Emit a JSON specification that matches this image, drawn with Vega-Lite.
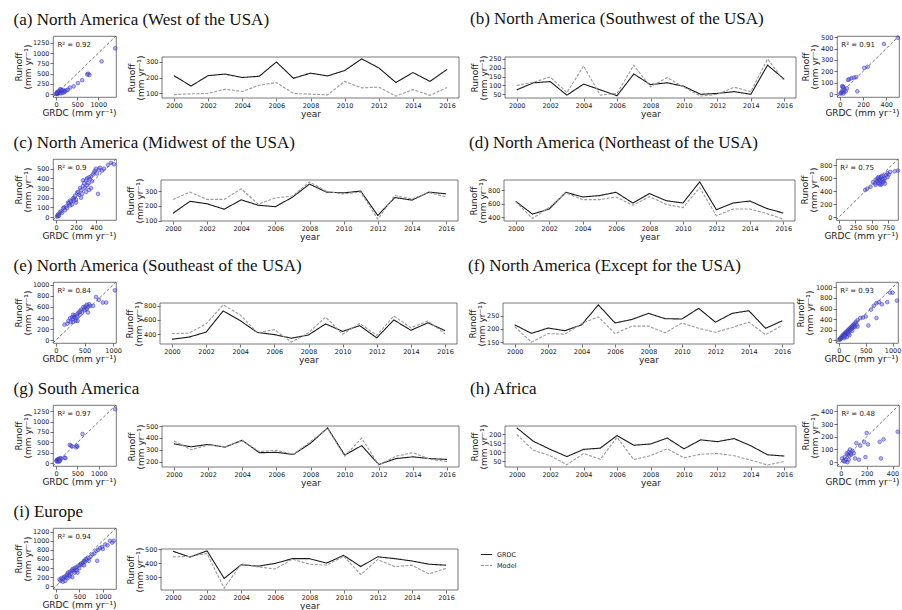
{
 "$schema": "https://vega.github.io/schema/vega-lite/v6.json",
 "background": "white",
 "padding": {"left": 13, "top": 9, "right": 0, "bottom": 0},
 "spacing": 15,
 "resolve": {"scale": {"color": "independent", "strokeDash": "independent"}},
 "config": {
  "view": {"stroke": "#555", "strokeWidth": 0.8},
  "title": {"font": "Liberation Serif", "fontSize": 17, "fontWeight": "normal", "anchor": "start", "offset": 6, "color": "#111"},
  "axis": {"grid": false, "domain": false, "labelFont": "DejaVu Sans", "labelFontSize": 6.5, "labelColor": "#222", "labelPadding": 1, "tickSize": 3, "tickColor": "#333", "tickWidth": 0.7, "titleFont": "DejaVu Sans", "titleFontSize": 9, "titleFontWeight": "normal", "titleColor": "#222", "titlePadding": 1, "titleLineHeight": 9, "labelOverlap": false, "labelFlush": false},
  "legend": {"labelFont": "DejaVu Sans", "labelFontSize": 6.5, "labelColor": "#222"}
 },
 "datasets": {
  "sa": [{"grdc":1400,"model":1120},{"grdc":1080,"model":800},{"grdc":760,"model":500},{"grdc":790,"model":470},{"grdc":740,"model":480},{"grdc":620,"model":340},{"grdc":520,"model":270},{"grdc":420,"model":190},{"grdc":330,"model":160},{"grdc":280,"model":110},{"grdc":250,"model":90},{"grdc":210,"model":70},{"grdc":180,"model":100},{"grdc":150,"model":60},{"grdc":120,"model":110},{"grdc":100,"model":120},{"grdc":90,"model":40},{"grdc":70,"model":50},{"grdc":60,"model":30},{"grdc":50,"model":20},{"grdc":40,"model":30},{"grdc":30,"model":10},{"grdc":20,"model":15},{"grdc":10,"model":5},{"grdc":25,"model":40},{"grdc":80,"model":70},{"grdc":140,"model":90},{"grdc":200,"model":50},{"grdc":160,"model":30},{"grdc":110,"model":20},{"grdc":45,"model":60},{"grdc":15,"model":25}],
  "sb": [{"grdc":500,"model":495},{"grdc":380,"model":440},{"grdc":240,"model":240},{"grdc":210,"model":230},{"grdc":140,"model":150},{"grdc":120,"model":145},{"grdc":100,"model":140},{"grdc":80,"model":130},{"grdc":70,"model":125},{"grdc":150,"model":25},{"grdc":20,"model":70},{"grdc":30,"model":65},{"grdc":25,"model":60},{"grdc":35,"model":20},{"grdc":15,"model":15},{"grdc":10,"model":10},{"grdc":5,"model":5},{"grdc":20,"model":30},{"grdc":40,"model":40},{"grdc":60,"model":50},{"grdc":30,"model":5},{"grdc":50,"model":25}],
  "sc": [{"grdc":10,"model":5},{"grdc":15,"model":20},{"grdc":20,"model":10},{"grdc":25,"model":30},{"grdc":30,"model":15},{"grdc":40,"model":50},{"grdc":50,"model":60},{"grdc":60,"model":45},{"grdc":70,"model":90},{"grdc":80,"model":100},{"grdc":90,"model":70},{"grdc":100,"model":110},{"grdc":110,"model":95},{"grdc":120,"model":150},{"grdc":130,"model":140},{"grdc":140,"model":170},{"grdc":150,"model":160},{"grdc":160,"model":130},{"grdc":170,"model":190},{"grdc":180,"model":200},{"grdc":190,"model":220},{"grdc":200,"model":180},{"grdc":210,"model":250},{"grdc":220,"model":260},{"grdc":230,"model":230},{"grdc":240,"model":300},{"grdc":250,"model":280},{"grdc":260,"model":240},{"grdc":270,"model":320},{"grdc":280,"model":350},{"grdc":290,"model":300},{"grdc":300,"model":380},{"grdc":310,"model":400},{"grdc":320,"model":350},{"grdc":330,"model":410},{"grdc":340,"model":390},{"grdc":350,"model":420},{"grdc":360,"model":370},{"grdc":370,"model":440},{"grdc":380,"model":460},{"grdc":390,"model":480},{"grdc":400,"model":500},{"grdc":410,"model":450},{"grdc":420,"model":240},{"grdc":430,"model":490},{"grdc":440,"model":510},{"grdc":460,"model":480},{"grdc":480,"model":500},{"grdc":520,"model":540},{"grdc":550,"model":560},{"grdc":580,"model":545},{"grdc":300,"model":260},{"grdc":250,"model":200},{"grdc":200,"model":150},{"grdc":350,"model":300},{"grdc":270,"model":380},{"grdc":310,"model":330},{"grdc":180,"model":170},{"grdc":140,"model":120},{"grdc":330,"model":280}],
  "sd": [{"grdc":400,"model":420},{"grdc":430,"model":440},{"grdc":480,"model":470},{"grdc":520,"model":540},{"grdc":550,"model":520},{"grdc":560,"model":500},{"grdc":580,"model":560},{"grdc":600,"model":530},{"grdc":610,"model":580},{"grdc":620,"model":600},{"grdc":630,"model":550},{"grdc":640,"model":620},{"grdc":650,"model":510},{"grdc":660,"model":570},{"grdc":670,"model":590},{"grdc":680,"model":640},{"grdc":690,"model":560},{"grdc":700,"model":600},{"grdc":720,"model":650},{"grdc":740,"model":680},{"grdc":760,"model":660},{"grdc":780,"model":700},{"grdc":850,"model":710},{"grdc":900,"model":720},{"grdc":600,"model":620},{"grdc":630,"model":500},{"grdc":650,"model":640},{"grdc":670,"model":540},{"grdc":590,"model":600},{"grdc":620,"model":520},{"grdc":560,"model":580},{"grdc":700,"model":520},{"grdc":740,"model":620}],
  "se": [{"grdc":150,"model":280},{"grdc":200,"model":300},{"grdc":220,"model":350},{"grdc":250,"model":400},{"grdc":260,"model":330},{"grdc":280,"model":410},{"grdc":300,"model":380},{"grdc":320,"model":420},{"grdc":330,"model":450},{"grdc":350,"model":400},{"grdc":370,"model":430},{"grdc":380,"model":480},{"grdc":400,"model":500},{"grdc":420,"model":460},{"grdc":440,"model":550},{"grdc":460,"model":520},{"grdc":480,"model":600},{"grdc":500,"model":580},{"grdc":520,"model":610},{"grdc":540,"model":560},{"grdc":560,"model":600},{"grdc":580,"model":650},{"grdc":600,"model":620},{"grdc":650,"model":620},{"grdc":700,"model":780},{"grdc":750,"model":730},{"grdc":820,"model":680},{"grdc":880,"model":680},{"grdc":1030,"model":900},{"grdc":300,"model":330},{"grdc":350,"model":350},{"grdc":420,"model":520},{"grdc":500,"model":540},{"grdc":540,"model":640},{"grdc":560,"model":500},{"grdc":380,"model":350},{"grdc":300,"model":460}],
  "sf": [{"grdc":550,"model":280},{"grdc":700,"model":420},{"grdc":600,"model":580},{"grdc":750,"model":720},{"grdc":800,"model":680},{"grdc":950,"model":900},{"grdc":1000,"model":900},{"grdc":1080,"model":750},{"grdc":900,"model":720},{"grdc":650,"model":650},{"grdc":700,"model":700},{"grdc":500,"model":450},{"grdc":10,"model":10},{"grdc":20,"model":30},{"grdc":30,"model":20},{"grdc":40,"model":50},{"grdc":50,"model":40},{"grdc":60,"model":80},{"grdc":70,"model":60},{"grdc":80,"model":100},{"grdc":90,"model":70},{"grdc":100,"model":120},{"grdc":110,"model":90},{"grdc":120,"model":140},{"grdc":130,"model":110},{"grdc":140,"model":160},{"grdc":150,"model":130},{"grdc":160,"model":180},{"grdc":170,"model":150},{"grdc":180,"model":200},{"grdc":190,"model":170},{"grdc":200,"model":220},{"grdc":210,"model":190},{"grdc":220,"model":240},{"grdc":230,"model":210},{"grdc":240,"model":260},{"grdc":250,"model":230},{"grdc":260,"model":280},{"grdc":270,"model":250},{"grdc":280,"model":300},{"grdc":290,"model":270},{"grdc":300,"model":320},{"grdc":320,"model":350},{"grdc":350,"model":380},{"grdc":200,"model":100},{"grdc":250,"model":180},{"grdc":150,"model":60},{"grdc":100,"model":40},{"grdc":300,"model":250},{"grdc":350,"model":260},{"grdc":400,"model":420},{"grdc":450,"model":430},{"grdc":330,"model":300},{"grdc":180,"model":120},{"grdc":120,"model":80}],
  "sg": [{"grdc":10,"model":50},{"grdc":20,"model":80},{"grdc":30,"model":60},{"grdc":40,"model":30},{"grdc":50,"model":90},{"grdc":60,"model":100},{"grdc":70,"model":70},{"grdc":80,"model":40},{"grdc":100,"model":120},{"grdc":120,"model":110},{"grdc":200,"model":130},{"grdc":220,"model":120},{"grdc":320,"model":440},{"grdc":350,"model":420},{"grdc":380,"model":400},{"grdc":470,"model":380},{"grdc":480,"model":420},{"grdc":500,"model":400},{"grdc":620,"model":700},{"grdc":1380,"model":1300},{"grdc":90,"model":60}],
  "sh": [{"grdc":10,"model":30},{"grdc":20,"model":10},{"grdc":30,"model":40},{"grdc":40,"model":20},{"grdc":50,"model":0},{"grdc":55,"model":60},{"grdc":60,"model":80},{"grdc":65,"model":50},{"grdc":70,"model":100},{"grdc":75,"model":70},{"grdc":80,"model":60},{"grdc":90,"model":90},{"grdc":100,"model":70},{"grdc":110,"model":30},{"grdc":120,"model":150},{"grdc":140,"model":20},{"grdc":150,"model":130},{"grdc":180,"model":160},{"grdc":190,"model":40},{"grdc":200,"model":230},{"grdc":210,"model":140},{"grdc":300,"model":160},{"grdc":310,"model":30},{"grdc":330,"model":180},{"grdc":440,"model":240},{"grdc":60,"model":20},{"grdc":30,"model":5},{"grdc":45,"model":70}],
  "si": [{"grdc":80,"model":150},{"grdc":100,"model":120},{"grdc":120,"model":180},{"grdc":150,"model":160},{"grdc":170,"model":200},{"grdc":200,"model":220},{"grdc":220,"model":190},{"grdc":240,"model":260},{"grdc":260,"model":300},{"grdc":280,"model":250},{"grdc":300,"model":320},{"grdc":320,"model":280},{"grdc":340,"model":350},{"grdc":360,"model":380},{"grdc":380,"model":340},{"grdc":400,"model":400},{"grdc":420,"model":360},{"grdc":440,"model":420},{"grdc":460,"model":300},{"grdc":480,"model":450},{"grdc":500,"model":400},{"grdc":520,"model":480},{"grdc":540,"model":500},{"grdc":560,"model":470},{"grdc":580,"model":520},{"grdc":600,"model":560},{"grdc":620,"model":540},{"grdc":640,"model":600},{"grdc":660,"model":580},{"grdc":700,"model":620},{"grdc":740,"model":650},{"grdc":780,"model":700},{"grdc":820,"model":720},{"grdc":860,"model":780},{"grdc":880,"model":560},{"grdc":900,"model":800},{"grdc":940,"model":840},{"grdc":980,"model":860},{"grdc":1000,"model":820},{"grdc":1050,"model":920},{"grdc":1100,"model":900},{"grdc":1150,"model":1000},{"grdc":1200,"model":960},{"grdc":1230,"model":1000},{"grdc":350,"model":200},{"grdc":300,"model":220},{"grdc":250,"model":180},{"grdc":400,"model":300},{"grdc":450,"model":350},{"grdc":150,"model":100},{"grdc":600,"model":460},{"grdc":700,"model":560},{"grdc":200,"model":120}],
  "la": [{"year":2000,"GRDC":212,"Model":90},{"year":2001,"GRDC":145,"Model":95},{"year":2002,"GRDC":212,"Model":97},{"year":2003,"GRDC":222,"Model":125},{"year":2004,"GRDC":200,"Model":110},{"year":2005,"GRDC":208,"Model":150},{"year":2006,"GRDC":300,"Model":168},{"year":2007,"GRDC":195,"Model":97},{"year":2008,"GRDC":228,"Model":93},{"year":2009,"GRDC":210,"Model":88},{"year":2010,"GRDC":245,"Model":175},{"year":2011,"GRDC":320,"Model":133},{"year":2012,"GRDC":262,"Model":138},{"year":2013,"GRDC":168,"Model":80},{"year":2014,"GRDC":232,"Model":122},{"year":2015,"GRDC":175,"Model":85},{"year":2016,"GRDC":252,"Model":135}],
  "lb": [{"year":2000,"GRDC":75,"Model":100},{"year":2001,"GRDC":115,"Model":118},{"year":2002,"GRDC":122,"Model":148},{"year":2003,"GRDC":45,"Model":60},{"year":2004,"GRDC":108,"Model":210},{"year":2005,"GRDC":75,"Model":45},{"year":2006,"GRDC":42,"Model":55},{"year":2007,"GRDC":165,"Model":215},{"year":2008,"GRDC":105,"Model":92},{"year":2009,"GRDC":115,"Model":145},{"year":2010,"GRDC":95,"Model":90},{"year":2011,"GRDC":50,"Model":40},{"year":2012,"GRDC":55,"Model":50},{"year":2013,"GRDC":65,"Model":90},{"year":2014,"GRDC":50,"Model":65},{"year":2015,"GRDC":215,"Model":250},{"year":2016,"GRDC":135,"Model":125}],
  "lc": [{"year":2000,"GRDC":150,"Model":245},{"year":2001,"GRDC":232,"Model":295},{"year":2002,"GRDC":215,"Model":245},{"year":2003,"GRDC":178,"Model":245},{"year":2004,"GRDC":242,"Model":318},{"year":2005,"GRDC":205,"Model":212},{"year":2006,"GRDC":195,"Model":255},{"year":2007,"GRDC":260,"Model":268},{"year":2008,"GRDC":350,"Model":365},{"year":2009,"GRDC":295,"Model":300},{"year":2010,"GRDC":290,"Model":282},{"year":2011,"GRDC":302,"Model":295},{"year":2012,"GRDC":135,"Model":110},{"year":2013,"GRDC":258,"Model":272},{"year":2014,"GRDC":240,"Model":248},{"year":2015,"GRDC":295,"Model":292},{"year":2016,"GRDC":283,"Model":262}],
  "ld": [{"year":2000,"GRDC":635,"Model":630},{"year":2001,"GRDC":445,"Model":380},{"year":2002,"GRDC":520,"Model":545},{"year":2003,"GRDC":770,"Model":760},{"year":2004,"GRDC":700,"Model":660},{"year":2005,"GRDC":720,"Model":660},{"year":2006,"GRDC":770,"Model":700},{"year":2007,"GRDC":610,"Model":575},{"year":2008,"GRDC":750,"Model":705},{"year":2009,"GRDC":645,"Model":590},{"year":2010,"GRDC":610,"Model":540},{"year":2011,"GRDC":925,"Model":840},{"year":2012,"GRDC":510,"Model":420},{"year":2013,"GRDC":610,"Model":520},{"year":2014,"GRDC":640,"Model":520},{"year":2015,"GRDC":530,"Model":455},{"year":2016,"GRDC":460,"Model":370}],
  "le": [{"year":2000,"GRDC":330,"Model":410},{"year":2001,"GRDC":360,"Model":415},{"year":2002,"GRDC":430,"Model":545},{"year":2003,"GRDC":725,"Model":810},{"year":2004,"GRDC":590,"Model":670},{"year":2005,"GRDC":425,"Model":420},{"year":2006,"GRDC":395,"Model":465},{"year":2007,"GRDC":345,"Model":290},{"year":2008,"GRDC":390,"Model":420},{"year":2009,"GRDC":545,"Model":640},{"year":2010,"GRDC":440,"Model":400},{"year":2011,"GRDC":520,"Model":550},{"year":2012,"GRDC":350,"Model":385},{"year":2013,"GRDC":600,"Model":655},{"year":2014,"GRDC":455,"Model":490},{"year":2015,"GRDC":560,"Model":585},{"year":2016,"GRDC":450,"Model":405}],
  "lf": [{"year":2000,"GRDC":215,"Model":208},{"year":2001,"GRDC":183,"Model":150},{"year":2002,"GRDC":203,"Model":182},{"year":2003,"GRDC":193,"Model":180},{"year":2004,"GRDC":215,"Model":220},{"year":2005,"GRDC":290,"Model":245},{"year":2006,"GRDC":222,"Model":182},{"year":2007,"GRDC":235,"Model":210},{"year":2008,"GRDC":258,"Model":210},{"year":2009,"GRDC":238,"Model":185},{"year":2010,"GRDC":237,"Model":222},{"year":2011,"GRDC":277,"Model":202},{"year":2012,"GRDC":225,"Model":187},{"year":2013,"GRDC":258,"Model":205},{"year":2014,"GRDC":268,"Model":225},{"year":2015,"GRDC":202,"Model":178},{"year":2016,"GRDC":230,"Model":213}],
  "lg": [{"year":2000,"GRDC":350,"Model":375},{"year":2001,"GRDC":325,"Model":300},{"year":2002,"GRDC":345,"Model":340},{"year":2003,"GRDC":322,"Model":325},{"year":2004,"GRDC":380,"Model":378},{"year":2005,"GRDC":275,"Model":285},{"year":2006,"GRDC":278,"Model":295},{"year":2007,"GRDC":260,"Model":262},{"year":2008,"GRDC":355,"Model":370},{"year":2009,"GRDC":485,"Model":480},{"year":2010,"GRDC":255,"Model":245},{"year":2011,"GRDC":335,"Model":398},{"year":2012,"GRDC":175,"Model":170},{"year":2013,"GRDC":225,"Model":245},{"year":2014,"GRDC":240,"Model":275},{"year":2015,"GRDC":225,"Model":220},{"year":2016,"GRDC":218,"Model":200}],
  "lh": [{"year":2000,"GRDC":235,"Model":198},{"year":2001,"GRDC":160,"Model":110},{"year":2002,"GRDC":115,"Model":80},{"year":2003,"GRDC":75,"Model":30},{"year":2004,"GRDC":115,"Model":92},{"year":2005,"GRDC":122,"Model":60},{"year":2006,"GRDC":192,"Model":182},{"year":2007,"GRDC":138,"Model":58},{"year":2008,"GRDC":145,"Model":80},{"year":2009,"GRDC":178,"Model":118},{"year":2010,"GRDC":118,"Model":68},{"year":2011,"GRDC":168,"Model":88},{"year":2012,"GRDC":158,"Model":92},{"year":2013,"GRDC":175,"Model":80},{"year":2014,"GRDC":135,"Model":55},{"year":2015,"GRDC":85,"Model":28},{"year":2016,"GRDC":78,"Model":48}],
  "li": [{"year":2000,"GRDC":485,"Model":445},{"year":2001,"GRDC":443,"Model":448},{"year":2002,"GRDC":488,"Model":468},{"year":2003,"GRDC":290,"Model":220},{"year":2004,"GRDC":388,"Model":395},{"year":2005,"GRDC":378,"Model":372},{"year":2006,"GRDC":398,"Model":358},{"year":2007,"GRDC":432,"Model":428},{"year":2008,"GRDC":432,"Model":392},{"year":2009,"GRDC":400,"Model":385},{"year":2010,"GRDC":455,"Model":450},{"year":2011,"GRDC":375,"Model":318},{"year":2012,"GRDC":445,"Model":425},{"year":2013,"GRDC":432,"Model":375},{"year":2014,"GRDC":415,"Model":385},{"year":2015,"GRDC":392,"Model":322},{"year":2016,"GRDC":385,"Model":362}]
 },
 "vconcat": [
  {"spacing": 10, "resolve": {"scale": {"color": "independent", "strokeDash": "independent"}}, "hconcat": [
    {"title": {"text": "(a) North America (West of the USA)"}, "spacing": 8, "resolve": {"scale": {"color": "independent", "strokeDash": "independent"}}, "hconcat": [
      {"width": 63, "height": 61, "data": {"name": "sa"}, "layer": [
        {"mark": {"type": "point", "filled": true, "size": 14, "fill": "#5a5ae6", "fillOpacity": 0.45, "stroke": "#2c2cc8", "strokeWidth": 0.6, "strokeOpacity": 0.8}, "encoding": {
          "x": {"field": "grdc", "type": "quantitative", "scale": {"domain": [-70, 1420], "nice": false, "zero": false}, "axis": {"values": [0, 500, 1000], "format": "d", "labelOverlap": false, "title": "GRDC (mm yr⁻¹)", "titleAnchor": "end"}},
          "y": {"field": "model", "type": "quantitative", "scale": {"domain": [-70, 1420], "nice": false, "zero": false}, "axis": {"values": [0, 250, 500, 750, 1000, 1250], "format": "d", "labelOverlap": false, "title": ["Runoff", "(mm yr⁻¹)"], "minExtent": 20, "maxExtent": 20}}}},
        {"data": {"values": [{}]}, "mark": {"type": "rule", "strokeDash": [3, 2], "color": "#555", "strokeWidth": 0.8}, "encoding": {
          "x": {"datum": -70, "type": "quantitative", "scale": {"domain": [-70, 1420], "nice": false, "zero": false}, "axis": {"values": [0, 500, 1000], "format": "d", "labelOverlap": false, "title": "GRDC (mm yr⁻¹)", "titleAnchor": "end"}},
          "y": {"datum": -70, "type": "quantitative", "scale": {"domain": [-70, 1420], "nice": false, "zero": false}, "axis": {"values": [0, 250, 500, 750, 1000, 1250], "format": "d", "labelOverlap": false, "title": ["Runoff", "(mm yr⁻¹)"], "minExtent": 20, "maxExtent": 20}},
          "x2": {"datum": 1420}, "y2": {"datum": 1420}}},
        {"data": {"values": [{}]}, "mark": {"type": "text", "text": "R² = 0.92", "align": "left", "baseline": "middle", "fontSize": 7, "font": "DejaVu Sans", "color": "#222"}, "encoding": {
          "x": {"datum": 34, "type": "quantitative", "scale": {"domain": [-70, 1420], "nice": false, "zero": false}, "axis": {"values": [0, 500, 1000], "format": "d", "labelOverlap": false, "title": "GRDC (mm yr⁻¹)", "titleAnchor": "end"}},
          "y": {"datum": 1211, "type": "quantitative", "scale": {"domain": [-70, 1420], "nice": false, "zero": false}, "axis": {"values": [0, 250, 500, 750, 1000, 1250], "format": "d", "labelOverlap": false, "title": ["Runoff", "(mm yr⁻¹)"], "minExtent": 20, "maxExtent": 20}}}}
      ]},
      {"width": 297, "height": 62, "view": {"stroke": null}, "layer": [
        {"data": {"values": [{}]}, "mark": {"type": "rect", "fillOpacity": 0, "stroke": "#555", "strokeWidth": 0.8}, "encoding": {
          "x": {"datum": 1999.3, "type": "quantitative", "scale": {"domain": [1999.3, 2016.7], "nice": false, "zero": false}, "axis": {"values": [2000, 2002, 2004, 2006, 2008, 2010, 2012, 2014, 2016], "format": "d", "title": "year"}},
          "x2": {"datum": 2016.7},
          "y": {"datum": 68, "type": "quantitative", "scale": {"domain": [68, 332], "range": [62, 21], "nice": false, "zero": false}, "axis": {"values": [100, 200, 300], "title": ["Runoff", "(mm yr⁻¹)"], "minExtent": 16, "maxExtent": 16}},
          "y2": {"datum": 332}}},
        {"data": {"name": "la"}, "transform": [{"fold": ["GRDC", "Model"], "as": ["series", "runoff"]}], "mark": {"type": "line", "strokeWidth": 1.1}, "encoding": {
          "x": {"field": "year", "type": "quantitative", "scale": {"domain": [1999.3, 2016.7], "nice": false, "zero": false}, "axis": {"values": [2000, 2002, 2004, 2006, 2008, 2010, 2012, 2014, 2016], "format": "d", "title": "year"}},
          "y": {"field": "runoff", "type": "quantitative", "scale": {"domain": [68, 332], "range": [62, 21], "nice": false, "zero": false}, "axis": {"values": [100, 200, 300], "title": ["Runoff", "(mm yr⁻¹)"], "minExtent": 16, "maxExtent": 16}},
          "color": {"field": "series", "type": "nominal", "scale": {"domain": ["GRDC", "Model"], "range": ["#1a1a1a", "#9a9a9a"]}, "legend": null},
          "strokeDash": {"field": "series", "type": "nominal", "scale": {"domain": ["GRDC", "Model"], "range": [[1, 0], [3, 1.5]]}, "legend": null}}}
      ]}
    ]},
    {"title": {"text": "(b) North America (Southwest of the USA)"}, "spacing": 4, "resolve": {"scale": {"color": "independent", "strokeDash": "independent"}}, "hconcat": [
      {"width": 291, "height": 62, "view": {"stroke": null}, "layer": [
        {"data": {"values": [{}]}, "mark": {"type": "rect", "fillOpacity": 0, "stroke": "#555", "strokeWidth": 0.8}, "encoding": {
          "x": {"datum": 1999.3, "type": "quantitative", "scale": {"domain": [1999.3, 2016.7], "nice": false, "zero": false}, "axis": {"values": [2000, 2002, 2004, 2006, 2008, 2010, 2012, 2014, 2016], "format": "d", "title": "year"}},
          "x2": {"datum": 2016.7},
          "y": {"datum": 29, "type": "quantitative", "scale": {"domain": [29, 261], "range": [62, 21], "nice": false, "zero": false}, "axis": {"values": [50, 100, 150, 200, 250], "title": ["Runoff", "(mm yr⁻¹)"], "minExtent": 16, "maxExtent": 16}},
          "y2": {"datum": 261}}},
        {"data": {"name": "lb"}, "transform": [{"fold": ["GRDC", "Model"], "as": ["series", "runoff"]}], "mark": {"type": "line", "strokeWidth": 1.1}, "encoding": {
          "x": {"field": "year", "type": "quantitative", "scale": {"domain": [1999.3, 2016.7], "nice": false, "zero": false}, "axis": {"values": [2000, 2002, 2004, 2006, 2008, 2010, 2012, 2014, 2016], "format": "d", "title": "year"}},
          "y": {"field": "runoff", "type": "quantitative", "scale": {"domain": [29, 261], "range": [62, 21], "nice": false, "zero": false}, "axis": {"values": [50, 100, 150, 200, 250], "title": ["Runoff", "(mm yr⁻¹)"], "minExtent": 16, "maxExtent": 16}},
          "color": {"field": "series", "type": "nominal", "scale": {"domain": ["GRDC", "Model"], "range": ["#1a1a1a", "#9a9a9a"]}, "legend": null},
          "strokeDash": {"field": "series", "type": "nominal", "scale": {"domain": ["GRDC", "Model"], "range": [[1, 0], [3, 1.5]]}, "legend": null}}}
      ]},
      {"width": 62, "height": 61, "data": {"name": "sb"}, "layer": [
        {"mark": {"type": "point", "filled": true, "size": 14, "fill": "#5a5ae6", "fillOpacity": 0.45, "stroke": "#2c2cc8", "strokeWidth": 0.6, "strokeOpacity": 0.8}, "encoding": {
          "x": {"field": "grdc", "type": "quantitative", "scale": {"domain": [-25, 510], "nice": false, "zero": false}, "axis": {"values": [0, 200, 400], "format": "d", "labelOverlap": false, "title": "GRDC (mm yr⁻¹)", "titleAnchor": "end"}},
          "y": {"field": "model", "type": "quantitative", "scale": {"domain": [-25, 510], "nice": false, "zero": false}, "axis": {"values": [0, 100, 200, 300, 400, 500], "format": "d", "labelOverlap": false, "title": ["Runoff", "(mm yr⁻¹)"]}}}},
        {"data": {"values": [{}]}, "mark": {"type": "rule", "strokeDash": [3, 2], "color": "#555", "strokeWidth": 0.8}, "encoding": {
          "x": {"datum": -25, "type": "quantitative", "scale": {"domain": [-25, 510], "nice": false, "zero": false}, "axis": {"values": [0, 200, 400], "format": "d", "labelOverlap": false, "title": "GRDC (mm yr⁻¹)", "titleAnchor": "end"}},
          "y": {"datum": -25, "type": "quantitative", "scale": {"domain": [-25, 510], "nice": false, "zero": false}, "axis": {"values": [0, 100, 200, 300, 400, 500], "format": "d", "labelOverlap": false, "title": ["Runoff", "(mm yr⁻¹)"]}},
          "x2": {"datum": 510}, "y2": {"datum": 510}}},
        {"data": {"values": [{}]}, "mark": {"type": "text", "text": "R² = 0.91", "align": "left", "baseline": "middle", "fontSize": 7, "font": "DejaVu Sans", "color": "#222"}, "encoding": {
          "x": {"datum": 12, "type": "quantitative", "scale": {"domain": [-25, 510], "nice": false, "zero": false}, "axis": {"values": [0, 200, 400], "format": "d", "labelOverlap": false, "title": "GRDC (mm yr⁻¹)", "titleAnchor": "end"}},
          "y": {"datum": 435, "type": "quantitative", "scale": {"domain": [-25, 510], "nice": false, "zero": false}, "axis": {"values": [0, 100, 200, 300, 400, 500], "format": "d", "labelOverlap": false, "title": ["Runoff", "(mm yr⁻¹)"]}}}}
      ]}
    ]}
  ]},
  {"spacing": 10, "resolve": {"scale": {"color": "independent", "strokeDash": "independent"}}, "hconcat": [
    {"title": {"text": "(c) North America (Midwest of the USA)"}, "spacing": 8, "resolve": {"scale": {"color": "independent", "strokeDash": "independent"}}, "hconcat": [
      {"width": 63, "height": 61, "data": {"name": "sc"}, "layer": [
        {"mark": {"type": "point", "filled": true, "size": 14, "fill": "#5a5ae6", "fillOpacity": 0.45, "stroke": "#2c2cc8", "strokeWidth": 0.6, "strokeOpacity": 0.8}, "encoding": {
          "x": {"field": "grdc", "type": "quantitative", "scale": {"domain": [-30, 600], "nice": false, "zero": false}, "axis": {"values": [0, 200, 400], "format": "d", "labelOverlap": false, "title": "GRDC (mm yr⁻¹)", "titleAnchor": "end"}},
          "y": {"field": "model", "type": "quantitative", "scale": {"domain": [-30, 600], "nice": false, "zero": false}, "axis": {"values": [0, 100, 200, 300, 400, 500], "format": "d", "labelOverlap": false, "title": ["Runoff", "(mm yr⁻¹)"], "minExtent": 20, "maxExtent": 20}}}},
        {"data": {"values": [{}]}, "mark": {"type": "rule", "strokeDash": [3, 2], "color": "#555", "strokeWidth": 0.8}, "encoding": {
          "x": {"datum": -30, "type": "quantitative", "scale": {"domain": [-30, 600], "nice": false, "zero": false}, "axis": {"values": [0, 200, 400], "format": "d", "labelOverlap": false, "title": "GRDC (mm yr⁻¹)", "titleAnchor": "end"}},
          "y": {"datum": -30, "type": "quantitative", "scale": {"domain": [-30, 600], "nice": false, "zero": false}, "axis": {"values": [0, 100, 200, 300, 400, 500], "format": "d", "labelOverlap": false, "title": ["Runoff", "(mm yr⁻¹)"], "minExtent": 20, "maxExtent": 20}},
          "x2": {"datum": 600}, "y2": {"datum": 600}}},
        {"data": {"values": [{}]}, "mark": {"type": "text", "text": "R² = 0.9", "align": "left", "baseline": "middle", "fontSize": 7, "font": "DejaVu Sans", "color": "#222"}, "encoding": {
          "x": {"datum": 14, "type": "quantitative", "scale": {"domain": [-30, 600], "nice": false, "zero": false}, "axis": {"values": [0, 200, 400], "format": "d", "labelOverlap": false, "title": "GRDC (mm yr⁻¹)", "titleAnchor": "end"}},
          "y": {"datum": 512, "type": "quantitative", "scale": {"domain": [-30, 600], "nice": false, "zero": false}, "axis": {"values": [0, 100, 200, 300, 400, 500], "format": "d", "labelOverlap": false, "title": ["Runoff", "(mm yr⁻¹)"], "minExtent": 20, "maxExtent": 20}}}}
      ]},
      {"width": 297, "height": 62, "view": {"stroke": null}, "layer": [
        {"data": {"values": [{}]}, "mark": {"type": "rect", "fillOpacity": 0, "stroke": "#555", "strokeWidth": 0.8}, "encoding": {
          "x": {"datum": 1999.3, "type": "quantitative", "scale": {"domain": [1999.3, 2016.7], "nice": false, "zero": false}, "axis": {"values": [2000, 2002, 2004, 2006, 2008, 2010, 2012, 2014, 2016], "format": "d", "title": "year"}},
          "x2": {"datum": 2016.7},
          "y": {"datum": 97, "type": "quantitative", "scale": {"domain": [97, 378], "range": [62, 21], "nice": false, "zero": false}, "axis": {"values": [100, 200, 300], "title": ["Runoff", "(mm yr⁻¹)"], "minExtent": 16, "maxExtent": 16}},
          "y2": {"datum": 378}}},
        {"data": {"name": "lc"}, "transform": [{"fold": ["GRDC", "Model"], "as": ["series", "runoff"]}], "mark": {"type": "line", "strokeWidth": 1.1}, "encoding": {
          "x": {"field": "year", "type": "quantitative", "scale": {"domain": [1999.3, 2016.7], "nice": false, "zero": false}, "axis": {"values": [2000, 2002, 2004, 2006, 2008, 2010, 2012, 2014, 2016], "format": "d", "title": "year"}},
          "y": {"field": "runoff", "type": "quantitative", "scale": {"domain": [97, 378], "range": [62, 21], "nice": false, "zero": false}, "axis": {"values": [100, 200, 300], "title": ["Runoff", "(mm yr⁻¹)"], "minExtent": 16, "maxExtent": 16}},
          "color": {"field": "series", "type": "nominal", "scale": {"domain": ["GRDC", "Model"], "range": ["#1a1a1a", "#9a9a9a"]}, "legend": null},
          "strokeDash": {"field": "series", "type": "nominal", "scale": {"domain": ["GRDC", "Model"], "range": [[1, 0], [3, 1.5]]}, "legend": null}}}
      ]}
    ]},
    {"title": {"text": "(d) North America (Northeast of the USA)"}, "spacing": 4, "resolve": {"scale": {"color": "independent", "strokeDash": "independent"}}, "hconcat": [
      {"width": 291, "height": 62, "view": {"stroke": null}, "layer": [
        {"data": {"values": [{}]}, "mark": {"type": "rect", "fillOpacity": 0, "stroke": "#555", "strokeWidth": 0.8}, "encoding": {
          "x": {"datum": 1999.3, "type": "quantitative", "scale": {"domain": [1999.3, 2016.7], "nice": false, "zero": false}, "axis": {"values": [2000, 2002, 2004, 2006, 2008, 2010, 2012, 2014, 2016], "format": "d", "title": "year"}},
          "x2": {"datum": 2016.7},
          "y": {"datum": 342, "type": "quantitative", "scale": {"domain": [342, 953], "range": [62, 21], "nice": false, "zero": false}, "axis": {"values": [400, 600, 800], "title": ["Runoff", "(mm yr⁻¹)"], "minExtent": 16, "maxExtent": 16}},
          "y2": {"datum": 953}}},
        {"data": {"name": "ld"}, "transform": [{"fold": ["GRDC", "Model"], "as": ["series", "runoff"]}], "mark": {"type": "line", "strokeWidth": 1.1}, "encoding": {
          "x": {"field": "year", "type": "quantitative", "scale": {"domain": [1999.3, 2016.7], "nice": false, "zero": false}, "axis": {"values": [2000, 2002, 2004, 2006, 2008, 2010, 2012, 2014, 2016], "format": "d", "title": "year"}},
          "y": {"field": "runoff", "type": "quantitative", "scale": {"domain": [342, 953], "range": [62, 21], "nice": false, "zero": false}, "axis": {"values": [400, 600, 800], "title": ["Runoff", "(mm yr⁻¹)"], "minExtent": 16, "maxExtent": 16}},
          "color": {"field": "series", "type": "nominal", "scale": {"domain": ["GRDC", "Model"], "range": ["#1a1a1a", "#9a9a9a"]}, "legend": null},
          "strokeDash": {"field": "series", "type": "nominal", "scale": {"domain": ["GRDC", "Model"], "range": [[1, 0], [3, 1.5]]}, "legend": null}}}
      ]},
      {"width": 62, "height": 61, "data": {"name": "sd"}, "layer": [
        {"mark": {"type": "point", "filled": true, "size": 14, "fill": "#5a5ae6", "fillOpacity": 0.45, "stroke": "#2c2cc8", "strokeWidth": 0.6, "strokeOpacity": 0.8}, "encoding": {
          "x": {"field": "grdc", "type": "quantitative", "scale": {"domain": [-45, 900], "nice": false, "zero": false}, "axis": {"values": [0, 250, 500, 750], "format": "d", "labelOverlap": false, "title": "GRDC (mm yr⁻¹)", "titleAnchor": "end"}},
          "y": {"field": "model", "type": "quantitative", "scale": {"domain": [-45, 900], "nice": false, "zero": false}, "axis": {"values": [0, 200, 400, 600, 800], "format": "d", "labelOverlap": false, "title": ["Runoff", "(mm yr⁻¹)"]}}}},
        {"data": {"values": [{}]}, "mark": {"type": "rule", "strokeDash": [3, 2], "color": "#555", "strokeWidth": 0.8}, "encoding": {
          "x": {"datum": -45, "type": "quantitative", "scale": {"domain": [-45, 900], "nice": false, "zero": false}, "axis": {"values": [0, 250, 500, 750], "format": "d", "labelOverlap": false, "title": "GRDC (mm yr⁻¹)", "titleAnchor": "end"}},
          "y": {"datum": -45, "type": "quantitative", "scale": {"domain": [-45, 900], "nice": false, "zero": false}, "axis": {"values": [0, 200, 400, 600, 800], "format": "d", "labelOverlap": false, "title": ["Runoff", "(mm yr⁻¹)"]}},
          "x2": {"datum": 900}, "y2": {"datum": 900}}},
        {"data": {"values": [{}]}, "mark": {"type": "text", "text": "R² = 0.75", "align": "left", "baseline": "middle", "fontSize": 7, "font": "DejaVu Sans", "color": "#222"}, "encoding": {
          "x": {"datum": 21, "type": "quantitative", "scale": {"domain": [-45, 900], "nice": false, "zero": false}, "axis": {"values": [0, 250, 500, 750], "format": "d", "labelOverlap": false, "title": "GRDC (mm yr⁻¹)", "titleAnchor": "end"}},
          "y": {"datum": 768, "type": "quantitative", "scale": {"domain": [-45, 900], "nice": false, "zero": false}, "axis": {"values": [0, 200, 400, 600, 800], "format": "d", "labelOverlap": false, "title": ["Runoff", "(mm yr⁻¹)"]}}}}
      ]}
    ]}
  ]},
  {"spacing": 10, "resolve": {"scale": {"color": "independent", "strokeDash": "independent"}}, "hconcat": [
    {"title": {"text": "(e) North America (Southeast of the USA)"}, "spacing": 3, "resolve": {"scale": {"color": "independent", "strokeDash": "independent"}}, "hconcat": [
      {"width": 63, "height": 61, "data": {"name": "se"}, "layer": [
        {"mark": {"type": "point", "filled": true, "size": 14, "fill": "#5a5ae6", "fillOpacity": 0.45, "stroke": "#2c2cc8", "strokeWidth": 0.6, "strokeOpacity": 0.8}, "encoding": {
          "x": {"field": "grdc", "type": "quantitative", "scale": {"domain": [-50, 1050], "nice": false, "zero": false}, "axis": {"values": [0, 500, 1000], "format": "d", "labelOverlap": false, "title": "GRDC (mm yr⁻¹)", "titleAnchor": "end"}},
          "y": {"field": "model", "type": "quantitative", "scale": {"domain": [-50, 1050], "nice": false, "zero": false}, "axis": {"values": [0, 200, 400, 600, 800, 1000], "format": "d", "labelOverlap": false, "title": ["Runoff", "(mm yr⁻¹)"], "minExtent": 20, "maxExtent": 20}}}},
        {"data": {"values": [{}]}, "mark": {"type": "rule", "strokeDash": [3, 2], "color": "#555", "strokeWidth": 0.8}, "encoding": {
          "x": {"datum": -50, "type": "quantitative", "scale": {"domain": [-50, 1050], "nice": false, "zero": false}, "axis": {"values": [0, 500, 1000], "format": "d", "labelOverlap": false, "title": "GRDC (mm yr⁻¹)", "titleAnchor": "end"}},
          "y": {"datum": -50, "type": "quantitative", "scale": {"domain": [-50, 1050], "nice": false, "zero": false}, "axis": {"values": [0, 200, 400, 600, 800, 1000], "format": "d", "labelOverlap": false, "title": ["Runoff", "(mm yr⁻¹)"], "minExtent": 20, "maxExtent": 20}},
          "x2": {"datum": 1050}, "y2": {"datum": 1050}}},
        {"data": {"values": [{}]}, "mark": {"type": "text", "text": "R² = 0.84", "align": "left", "baseline": "middle", "fontSize": 7, "font": "DejaVu Sans", "color": "#222"}, "encoding": {
          "x": {"datum": 27, "type": "quantitative", "scale": {"domain": [-50, 1050], "nice": false, "zero": false}, "axis": {"values": [0, 500, 1000], "format": "d", "labelOverlap": false, "title": "GRDC (mm yr⁻¹)", "titleAnchor": "end"}},
          "y": {"datum": 896, "type": "quantitative", "scale": {"domain": [-50, 1050], "nice": false, "zero": false}, "axis": {"values": [0, 200, 400, 600, 800, 1000], "format": "d", "labelOverlap": false, "title": ["Runoff", "(mm yr⁻¹)"], "minExtent": 20, "maxExtent": 20}}}}
      ]},
      {"width": 297, "height": 62, "view": {"stroke": null}, "layer": [
        {"data": {"values": [{}]}, "mark": {"type": "rect", "fillOpacity": 0, "stroke": "#555", "strokeWidth": 0.8}, "encoding": {
          "x": {"datum": 1999.3, "type": "quantitative", "scale": {"domain": [1999.3, 2016.7], "nice": false, "zero": false}, "axis": {"values": [2000, 2002, 2004, 2006, 2008, 2010, 2012, 2014, 2016], "format": "d", "title": "year"}},
          "x2": {"datum": 2016.7},
          "y": {"datum": 264, "type": "quantitative", "scale": {"domain": [264, 836], "range": [62, 21], "nice": false, "zero": false}, "axis": {"values": [400, 600, 800], "title": ["Runoff", "(mm yr⁻¹)"], "minExtent": 16, "maxExtent": 16}},
          "y2": {"datum": 836}}},
        {"data": {"name": "le"}, "transform": [{"fold": ["GRDC", "Model"], "as": ["series", "runoff"]}], "mark": {"type": "line", "strokeWidth": 1.1}, "encoding": {
          "x": {"field": "year", "type": "quantitative", "scale": {"domain": [1999.3, 2016.7], "nice": false, "zero": false}, "axis": {"values": [2000, 2002, 2004, 2006, 2008, 2010, 2012, 2014, 2016], "format": "d", "title": "year"}},
          "y": {"field": "runoff", "type": "quantitative", "scale": {"domain": [264, 836], "range": [62, 21], "nice": false, "zero": false}, "axis": {"values": [400, 600, 800], "title": ["Runoff", "(mm yr⁻¹)"], "minExtent": 16, "maxExtent": 16}},
          "color": {"field": "series", "type": "nominal", "scale": {"domain": ["GRDC", "Model"], "range": ["#1a1a1a", "#9a9a9a"]}, "legend": null},
          "strokeDash": {"field": "series", "type": "nominal", "scale": {"domain": ["GRDC", "Model"], "range": [[1, 0], [3, 1.5]]}, "legend": null}}}
      ]}
    ]},
    {"title": {"text": "(f) North America (Except for the USA)"}, "spacing": 1, "resolve": {"scale": {"color": "independent", "strokeDash": "independent"}}, "hconcat": [
      {"width": 291, "height": 62, "view": {"stroke": null}, "layer": [
        {"data": {"values": [{}]}, "mark": {"type": "rect", "fillOpacity": 0, "stroke": "#555", "strokeWidth": 0.8}, "encoding": {
          "x": {"datum": 1999.3, "type": "quantitative", "scale": {"domain": [1999.3, 2016.7], "nice": false, "zero": false}, "axis": {"values": [2000, 2002, 2004, 2006, 2008, 2010, 2012, 2014, 2016], "format": "d", "title": "year"}},
          "x2": {"datum": 2016.7},
          "y": {"datum": 143, "type": "quantitative", "scale": {"domain": [143, 297], "range": [62, 21], "nice": false, "zero": false}, "axis": {"values": [150, 200, 250], "title": ["Runoff", "(mm yr⁻¹)"], "minExtent": 16, "maxExtent": 16}},
          "y2": {"datum": 297}}},
        {"data": {"name": "lf"}, "transform": [{"fold": ["GRDC", "Model"], "as": ["series", "runoff"]}], "mark": {"type": "line", "strokeWidth": 1.1}, "encoding": {
          "x": {"field": "year", "type": "quantitative", "scale": {"domain": [1999.3, 2016.7], "nice": false, "zero": false}, "axis": {"values": [2000, 2002, 2004, 2006, 2008, 2010, 2012, 2014, 2016], "format": "d", "title": "year"}},
          "y": {"field": "runoff", "type": "quantitative", "scale": {"domain": [143, 297], "range": [62, 21], "nice": false, "zero": false}, "axis": {"values": [150, 200, 250], "title": ["Runoff", "(mm yr⁻¹)"], "minExtent": 16, "maxExtent": 16}},
          "color": {"field": "series", "type": "nominal", "scale": {"domain": ["GRDC", "Model"], "range": ["#1a1a1a", "#9a9a9a"]}, "legend": null},
          "strokeDash": {"field": "series", "type": "nominal", "scale": {"domain": ["GRDC", "Model"], "range": [[1, 0], [3, 1.5]]}, "legend": null}}}
      ]},
      {"width": 62, "height": 61, "data": {"name": "sf"}, "layer": [
        {"mark": {"type": "point", "filled": true, "size": 14, "fill": "#5a5ae6", "fillOpacity": 0.45, "stroke": "#2c2cc8", "strokeWidth": 0.6, "strokeOpacity": 0.8}, "encoding": {
          "x": {"field": "grdc", "type": "quantitative", "scale": {"domain": [-50, 1100], "nice": false, "zero": false}, "axis": {"values": [0, 500, 1000], "format": "d", "labelOverlap": false, "title": "GRDC (mm yr⁻¹)", "titleAnchor": "end"}},
          "y": {"field": "model", "type": "quantitative", "scale": {"domain": [-50, 1100], "nice": false, "zero": false}, "axis": {"values": [0, 200, 400, 600, 800, 1000], "format": "d", "labelOverlap": false, "title": ["Runoff", "(mm yr⁻¹)"]}}}},
        {"data": {"values": [{}]}, "mark": {"type": "rule", "strokeDash": [3, 2], "color": "#555", "strokeWidth": 0.8}, "encoding": {
          "x": {"datum": -50, "type": "quantitative", "scale": {"domain": [-50, 1100], "nice": false, "zero": false}, "axis": {"values": [0, 500, 1000], "format": "d", "labelOverlap": false, "title": "GRDC (mm yr⁻¹)", "titleAnchor": "end"}},
          "y": {"datum": -50, "type": "quantitative", "scale": {"domain": [-50, 1100], "nice": false, "zero": false}, "axis": {"values": [0, 200, 400, 600, 800, 1000], "format": "d", "labelOverlap": false, "title": ["Runoff", "(mm yr⁻¹)"]}},
          "x2": {"datum": 1100}, "y2": {"datum": 1100}}},
        {"data": {"values": [{}]}, "mark": {"type": "text", "text": "R² = 0.93", "align": "left", "baseline": "middle", "fontSize": 7, "font": "DejaVu Sans", "color": "#222"}, "encoding": {
          "x": {"datum": 30, "type": "quantitative", "scale": {"domain": [-50, 1100], "nice": false, "zero": false}, "axis": {"values": [0, 500, 1000], "format": "d", "labelOverlap": false, "title": "GRDC (mm yr⁻¹)", "titleAnchor": "end"}},
          "y": {"datum": 939, "type": "quantitative", "scale": {"domain": [-50, 1100], "nice": false, "zero": false}, "axis": {"values": [0, 200, 400, 600, 800, 1000], "format": "d", "labelOverlap": false, "title": ["Runoff", "(mm yr⁻¹)"]}}}}
      ]}
    ]}
  ]},
  {"spacing": 10, "resolve": {"scale": {"color": "independent", "strokeDash": "independent"}}, "hconcat": [
    {"title": {"text": "(g) South America"}, "spacing": 8, "resolve": {"scale": {"color": "independent", "strokeDash": "independent"}}, "hconcat": [
      {"width": 63, "height": 61, "data": {"name": "sg"}, "layer": [
        {"mark": {"type": "point", "filled": true, "size": 14, "fill": "#5a5ae6", "fillOpacity": 0.45, "stroke": "#2c2cc8", "strokeWidth": 0.6, "strokeOpacity": 0.8}, "encoding": {
          "x": {"field": "grdc", "type": "quantitative", "scale": {"domain": [-70, 1400], "nice": false, "zero": false}, "axis": {"values": [0, 500, 1000], "format": "d", "labelOverlap": false, "title": "GRDC (mm yr⁻¹)", "titleAnchor": "end"}},
          "y": {"field": "model", "type": "quantitative", "scale": {"domain": [-70, 1400], "nice": false, "zero": false}, "axis": {"values": [0, 250, 500, 750, 1000, 1250], "format": "d", "labelOverlap": false, "title": ["Runoff", "(mm yr⁻¹)"], "minExtent": 20, "maxExtent": 20}}}},
        {"data": {"values": [{}]}, "mark": {"type": "rule", "strokeDash": [3, 2], "color": "#555", "strokeWidth": 0.8}, "encoding": {
          "x": {"datum": -70, "type": "quantitative", "scale": {"domain": [-70, 1400], "nice": false, "zero": false}, "axis": {"values": [0, 500, 1000], "format": "d", "labelOverlap": false, "title": "GRDC (mm yr⁻¹)", "titleAnchor": "end"}},
          "y": {"datum": -70, "type": "quantitative", "scale": {"domain": [-70, 1400], "nice": false, "zero": false}, "axis": {"values": [0, 250, 500, 750, 1000, 1250], "format": "d", "labelOverlap": false, "title": ["Runoff", "(mm yr⁻¹)"], "minExtent": 20, "maxExtent": 20}},
          "x2": {"datum": 1400}, "y2": {"datum": 1400}}},
        {"data": {"values": [{}]}, "mark": {"type": "text", "text": "R² = 0.97", "align": "left", "baseline": "middle", "fontSize": 7, "font": "DejaVu Sans", "color": "#222"}, "encoding": {
          "x": {"datum": 33, "type": "quantitative", "scale": {"domain": [-70, 1400], "nice": false, "zero": false}, "axis": {"values": [0, 500, 1000], "format": "d", "labelOverlap": false, "title": "GRDC (mm yr⁻¹)", "titleAnchor": "end"}},
          "y": {"datum": 1194, "type": "quantitative", "scale": {"domain": [-70, 1400], "nice": false, "zero": false}, "axis": {"values": [0, 250, 500, 750, 1000, 1250], "format": "d", "labelOverlap": false, "title": ["Runoff", "(mm yr⁻¹)"], "minExtent": 20, "maxExtent": 20}}}}
      ]},
      {"width": 297, "height": 62, "view": {"stroke": null}, "layer": [
        {"data": {"values": [{}]}, "mark": {"type": "rect", "fillOpacity": 0, "stroke": "#555", "strokeWidth": 0.8}, "encoding": {
          "x": {"datum": 1999.3, "type": "quantitative", "scale": {"domain": [1999.3, 2016.7], "nice": false, "zero": false}, "axis": {"values": [2000, 2002, 2004, 2006, 2008, 2010, 2012, 2014, 2016], "format": "d", "title": "year"}},
          "x2": {"datum": 2016.7},
          "y": {"datum": 154, "type": "quantitative", "scale": {"domain": [154, 501], "range": [62, 21], "nice": false, "zero": false}, "axis": {"values": [200, 300, 400, 500], "title": ["Runoff", "(mm yr⁻¹)"], "minExtent": 16, "maxExtent": 16}},
          "y2": {"datum": 501}}},
        {"data": {"name": "lg"}, "transform": [{"fold": ["GRDC", "Model"], "as": ["series", "runoff"]}], "mark": {"type": "line", "strokeWidth": 1.1}, "encoding": {
          "x": {"field": "year", "type": "quantitative", "scale": {"domain": [1999.3, 2016.7], "nice": false, "zero": false}, "axis": {"values": [2000, 2002, 2004, 2006, 2008, 2010, 2012, 2014, 2016], "format": "d", "title": "year"}},
          "y": {"field": "runoff", "type": "quantitative", "scale": {"domain": [154, 501], "range": [62, 21], "nice": false, "zero": false}, "axis": {"values": [200, 300, 400, 500], "title": ["Runoff", "(mm yr⁻¹)"], "minExtent": 16, "maxExtent": 16}},
          "color": {"field": "series", "type": "nominal", "scale": {"domain": ["GRDC", "Model"], "range": ["#1a1a1a", "#9a9a9a"]}, "legend": null},
          "strokeDash": {"field": "series", "type": "nominal", "scale": {"domain": ["GRDC", "Model"], "range": [[1, 0], [3, 1.5]]}, "legend": null}}}
      ]}
    ]},
    {"title": {"text": "(h) Africa"}, "spacing": 4, "resolve": {"scale": {"color": "independent", "strokeDash": "independent"}}, "hconcat": [
      {"width": 291, "height": 62, "view": {"stroke": null}, "layer": [
        {"data": {"values": [{}]}, "mark": {"type": "rect", "fillOpacity": 0, "stroke": "#555", "strokeWidth": 0.8}, "encoding": {
          "x": {"datum": 1999.3, "type": "quantitative", "scale": {"domain": [1999.3, 2016.7], "nice": false, "zero": false}, "axis": {"values": [2000, 2002, 2004, 2006, 2008, 2010, 2012, 2014, 2016], "format": "d", "title": "year"}},
          "x2": {"datum": 2016.7},
          "y": {"datum": 17, "type": "quantitative", "scale": {"domain": [17, 245], "range": [62, 21], "nice": false, "zero": false}, "axis": {"values": [50, 100, 150, 200], "title": ["Runoff", "(mm yr⁻¹)"], "minExtent": 16, "maxExtent": 16}},
          "y2": {"datum": 245}}},
        {"data": {"name": "lh"}, "transform": [{"fold": ["GRDC", "Model"], "as": ["series", "runoff"]}], "mark": {"type": "line", "strokeWidth": 1.1}, "encoding": {
          "x": {"field": "year", "type": "quantitative", "scale": {"domain": [1999.3, 2016.7], "nice": false, "zero": false}, "axis": {"values": [2000, 2002, 2004, 2006, 2008, 2010, 2012, 2014, 2016], "format": "d", "title": "year"}},
          "y": {"field": "runoff", "type": "quantitative", "scale": {"domain": [17, 245], "range": [62, 21], "nice": false, "zero": false}, "axis": {"values": [50, 100, 150, 200], "title": ["Runoff", "(mm yr⁻¹)"], "minExtent": 16, "maxExtent": 16}},
          "color": {"field": "series", "type": "nominal", "scale": {"domain": ["GRDC", "Model"], "range": ["#1a1a1a", "#9a9a9a"]}, "legend": null},
          "strokeDash": {"field": "series", "type": "nominal", "scale": {"domain": ["GRDC", "Model"], "range": [[1, 0], [3, 1.5]]}, "legend": null}}}
      ]},
      {"width": 62, "height": 61, "data": {"name": "sh"}, "layer": [
        {"mark": {"type": "point", "filled": true, "size": 14, "fill": "#5a5ae6", "fillOpacity": 0.45, "stroke": "#2c2cc8", "strokeWidth": 0.6, "strokeOpacity": 0.8}, "encoding": {
          "x": {"field": "grdc", "type": "quantitative", "scale": {"domain": [-30, 450], "nice": false, "zero": false}, "axis": {"values": [0, 200, 400], "format": "d", "labelOverlap": false, "title": "GRDC (mm yr⁻¹)", "titleAnchor": "end"}},
          "y": {"field": "model", "type": "quantitative", "scale": {"domain": [-30, 450], "nice": false, "zero": false}, "axis": {"values": [0, 100, 200, 300, 400], "format": "d", "labelOverlap": false, "title": ["Runoff", "(mm yr⁻¹)"]}}}},
        {"data": {"values": [{}]}, "mark": {"type": "rule", "strokeDash": [3, 2], "color": "#555", "strokeWidth": 0.8}, "encoding": {
          "x": {"datum": -30, "type": "quantitative", "scale": {"domain": [-30, 450], "nice": false, "zero": false}, "axis": {"values": [0, 200, 400], "format": "d", "labelOverlap": false, "title": "GRDC (mm yr⁻¹)", "titleAnchor": "end"}},
          "y": {"datum": -30, "type": "quantitative", "scale": {"domain": [-30, 450], "nice": false, "zero": false}, "axis": {"values": [0, 100, 200, 300, 400], "format": "d", "labelOverlap": false, "title": ["Runoff", "(mm yr⁻¹)"]}},
          "x2": {"datum": 450}, "y2": {"datum": 450}}},
        {"data": {"values": [{}]}, "mark": {"type": "text", "text": "R² = 0.48", "align": "left", "baseline": "middle", "fontSize": 7, "font": "DejaVu Sans", "color": "#222"}, "encoding": {
          "x": {"datum": 4, "type": "quantitative", "scale": {"domain": [-30, 450], "nice": false, "zero": false}, "axis": {"values": [0, 200, 400], "format": "d", "labelOverlap": false, "title": "GRDC (mm yr⁻¹)", "titleAnchor": "end"}},
          "y": {"datum": 383, "type": "quantitative", "scale": {"domain": [-30, 450], "nice": false, "zero": false}, "axis": {"values": [0, 100, 200, 300, 400], "format": "d", "labelOverlap": false, "title": ["Runoff", "(mm yr⁻¹)"]}}}}
      ]}
    ]}
  ]},
  {"title": {"text": "(i) Europe"}, "spacing": 8, "resolve": {"scale": {"color": "independent", "strokeDash": "independent"}}, "hconcat": [
    {"width": 63, "height": 61, "data": {"name": "si"}, "layer": [
      {"mark": {"type": "point", "filled": true, "size": 14, "fill": "#5a5ae6", "fillOpacity": 0.45, "stroke": "#2c2cc8", "strokeWidth": 0.6, "strokeOpacity": 0.8}, "encoding": {
        "x": {"field": "grdc", "type": "quantitative", "scale": {"domain": [-60, 1280], "nice": false, "zero": false}, "axis": {"values": [0, 500, 1000], "format": "d", "labelOverlap": false, "title": "GRDC (mm yr⁻¹)", "titleAnchor": "end"}},
        "y": {"field": "model", "type": "quantitative", "scale": {"domain": [-60, 1280], "nice": false, "zero": false}, "axis": {"values": [0, 200, 400, 600, 800, 1000, 1200], "format": "d", "labelOverlap": false, "title": ["Runoff", "(mm yr⁻¹)"], "minExtent": 20, "maxExtent": 20}}}},
      {"data": {"values": [{}]}, "mark": {"type": "rule", "strokeDash": [3, 2], "color": "#555", "strokeWidth": 0.8}, "encoding": {
        "x": {"datum": -60, "type": "quantitative", "scale": {"domain": [-60, 1280], "nice": false, "zero": false}, "axis": {"values": [0, 500, 1000], "format": "d", "labelOverlap": false, "title": "GRDC (mm yr⁻¹)", "titleAnchor": "end"}},
        "y": {"datum": -60, "type": "quantitative", "scale": {"domain": [-60, 1280], "nice": false, "zero": false}, "axis": {"values": [0, 200, 400, 600, 800, 1000, 1200], "format": "d", "labelOverlap": false, "title": ["Runoff", "(mm yr⁻¹)"], "minExtent": 20, "maxExtent": 20}},
        "x2": {"datum": 1280}, "y2": {"datum": 1280}}},
      {"data": {"values": [{}]}, "mark": {"type": "text", "text": "R² = 0.94", "align": "left", "baseline": "middle", "fontSize": 7, "font": "DejaVu Sans", "color": "#222"}, "encoding": {
        "x": {"datum": 34, "type": "quantitative", "scale": {"domain": [-60, 1280], "nice": false, "zero": false}, "axis": {"values": [0, 500, 1000], "format": "d", "labelOverlap": false, "title": "GRDC (mm yr⁻¹)", "titleAnchor": "end"}},
        "y": {"datum": 1092, "type": "quantitative", "scale": {"domain": [-60, 1280], "nice": false, "zero": false}, "axis": {"values": [0, 200, 400, 600, 800, 1000, 1200], "format": "d", "labelOverlap": false, "title": ["Runoff", "(mm yr⁻¹)"], "minExtent": 20, "maxExtent": 20}}}}
    ]},
    {"width": 297, "height": 62, "view": {"stroke": null}, "layer": [
      {"data": {"values": [{}]}, "mark": {"type": "rect", "fillOpacity": 0, "stroke": "#555", "strokeWidth": 0.8}, "encoding": {
        "x": {"datum": 1999.3, "type": "quantitative", "scale": {"domain": [1999.3, 2016.7], "nice": false, "zero": false}, "axis": {"values": [2000, 2002, 2004, 2006, 2008, 2010, 2012, 2014, 2016], "format": "d", "title": "year"}},
        "x2": {"datum": 2016.7},
        "y": {"datum": 207, "type": "quantitative", "scale": {"domain": [207, 501], "range": [62, 21], "nice": false, "zero": false}, "axis": {"values": [300, 400, 500], "title": ["Runoff", "(mm yr⁻¹)"], "minExtent": 16, "maxExtent": 16}},
        "y2": {"datum": 501}}},
      {"data": {"name": "li"}, "transform": [{"fold": ["GRDC", "Model"], "as": ["series", "runoff"]}], "mark": {"type": "line", "strokeWidth": 1.1}, "encoding": {
        "x": {"field": "year", "type": "quantitative", "scale": {"domain": [1999.3, 2016.7], "nice": false, "zero": false}, "axis": {"values": [2000, 2002, 2004, 2006, 2008, 2010, 2012, 2014, 2016], "format": "d", "title": "year"}},
        "y": {"field": "runoff", "type": "quantitative", "scale": {"domain": [207, 501], "range": [62, 21], "nice": false, "zero": false}, "axis": {"values": [300, 400, 500], "title": ["Runoff", "(mm yr⁻¹)"], "minExtent": 16, "maxExtent": 16}},
        "color": {"field": "series", "type": "nominal", "scale": {"domain": ["GRDC", "Model"], "range": ["#1a1a1a", "#9a9a9a"]}, "legend": {"title": null, "orient": "right", "offset": 2, "labelFontSize": 6.5, "symbolType": "stroke", "symbolSize": 120, "symbolStrokeWidth": 1.1, "rowPadding": 1, "labelOffset": 4, "padding": 20}},
        "strokeDash": {"field": "series", "type": "nominal", "scale": {"domain": ["GRDC", "Model"], "range": [[1, 0], [3, 1.5]]}, "legend": {"title": null, "orient": "right", "offset": 2, "labelFontSize": 6.5, "symbolType": "stroke", "symbolSize": 120, "symbolStrokeWidth": 1.1, "rowPadding": 1, "labelOffset": 4, "padding": 20}}}}
    ]}
  ]}
 ]
}
